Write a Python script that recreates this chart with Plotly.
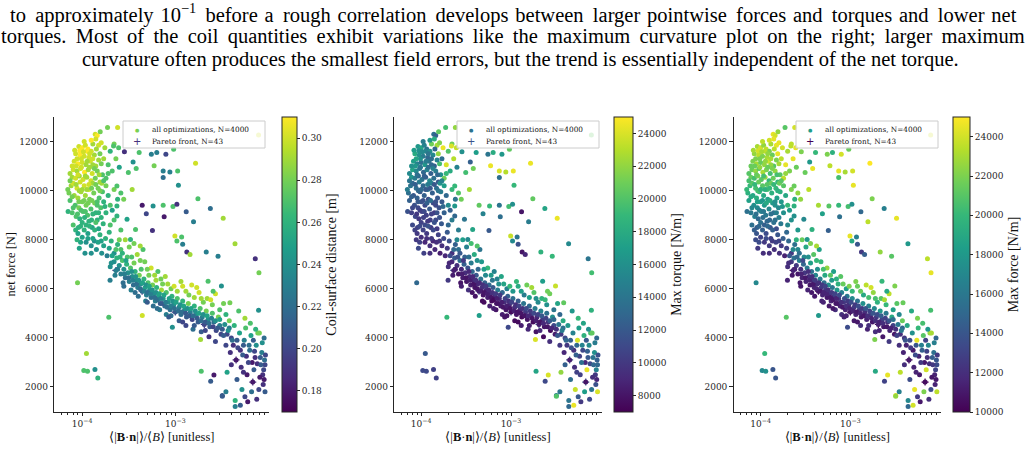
import plotly.graph_objects as go

# ---------------------------------------------------------------
# values (same runs, three colourings)
# x = <|B.n|>/<B>, y = net force [N]
# colour: coil-surface distance [m], max torque [N/m], max force [N/m]
# ---------------------------------------------------------------

# top of the dense cloud at small field error
bn_top = [9.2e-5, 1.00e-4, 1.08e-4, 1.15e-4, 1.25e-4, 1.38e-4, 1.45e-4, 1.30e-4, 8.5e-5, 9.5e-5,
          1.05e-4, 1.18e-4, 1.35e-4, 1.55e-4, 1.70e-4, 8.2e-5, 9.0e-5, 1.0e-4, 1.1e-4, 1.22e-4,
          1.40e-4, 1.60e-4, 1.9e-4, 8.0e-5, 8.8e-5, 9.6e-5, 1.06e-4, 1.16e-4, 1.28e-4, 1.45e-4,
          1.65e-4, 7.8e-5, 8.5e-5, 9.3e-5, 1.02e-4, 1.12e-4, 1.24e-4, 1.38e-4, 1.55e-4, 1.8e-4,
          2.1e-4, 2.3e-4, 1.75e-4, 2.0e-4, 1.5e-4, 2.5e-4, 1.12e-4, 9.8e-5, 1.3e-4, 8.6e-5]
force_top = [11800, 11750, 11850, 11700, 11600, 12300, 12250, 11900, 11500, 11450,
             11400, 11350, 11450, 11500, 11300, 11200, 11100, 11150, 11050, 11200,
             11000, 11100, 11050, 10850, 10800, 10900, 10750, 10850, 10700, 10800,
             10650, 10550, 10500, 10600, 10450, 10550, 10400, 10500, 10350, 10500,
             10800, 11300, 11750, 11600, 11850, 10950, 11600, 11300, 11050, 11000]
dist_top = [0.30, 0.31, 0.30, 0.31, 0.30, 0.30, 0.31, 0.29, 0.30, 0.31,
            0.30, 0.30, 0.29, 0.28, 0.29, 0.30, 0.31, 0.30, 0.29, 0.30,
            0.29, 0.28, 0.27, 0.30, 0.29, 0.30, 0.31, 0.29, 0.30, 0.28,
            0.27, 0.29, 0.30, 0.29, 0.30, 0.29, 0.30, 0.28, 0.29, 0.27,
            0.27, 0.28, 0.29, 0.26, 0.30, 0.25, 0.31, 0.30, 0.29, 0.30]
torque_top = [16500, 17500, 15000, 14000, 16000, 13500, 12500, 21000, 18000, 16000,
              14500, 13000, 15500, 22000, 13500, 17000, 15000, 13500, 16500, 14000,
              12500, 19500, 24000, 17500, 15500, 14000, 13000, 15000, 12500, 14500,
              16000, 16500, 14500, 13000, 14000, 12500, 15500, 13500, 12000, 21000,
              18000, 23000, 24500, 20000, 22500, 15000, 15000, 16000, 13000, 16500]
fmax_top = [23000, 24000, 22500, 23500, 22000, 24500, 24000, 23000, 22500, 23500,
            22000, 23000, 21500, 24500, 23500, 22000, 23000, 21500, 22500, 24000,
            21000, 23000, 24500, 21500, 22500, 21000, 23000, 22000, 20500, 22500,
            21000, 21500, 20500, 22000, 21000, 22500, 20000, 21500, 20000, 23500,
            22000, 24500, 24000, 23000, 24500, 21500, 23500, 22000, 22500, 21500]

# middle of the cloud
bn_mid = [7.2e-5, 7.6e-5, 7.4e-5, 8.0e-5, 8.2e-5, 8.4e-5, 8.8e-5, 9.0e-5, 9.2e-5, 9.5e-5,
          9.7e-5, 1.0e-4, 1.02e-4, 1.05e-4, 1.08e-4, 1.1e-4, 1.14e-4, 1.18e-4, 1.2e-4, 1.24e-4,
          1.3e-4, 1.33e-4, 1.36e-4, 1.4e-4, 1.48e-4, 1.52e-4, 1.58e-4, 1.65e-4, 1.7e-4, 1.8e-4,
          1.9e-4, 2.0e-4, 2.2e-4, 2.4e-4, 7.05e-5, 7.8e-5, 8.6e-5, 9.4e-5, 1.26e-4, 1.6e-4,
          7.0e-5, 1.12e-4, 9.3e-5, 1.27e-4, 1.45e-4, 1.62e-4, 2.1e-4, 2.6e-4, 1.0e-4]
force_mid = [9900, 10200, 9600, 10300, 9800, 9400, 10100, 9700, 9300, 10350,
             9950, 9550, 9150, 10200, 9800, 9400, 9000, 10050, 9650, 9250,
             10300, 9900, 9500, 9100, 10100, 9700, 9300, 9950, 9550, 10200,
             9800, 9400, 10050, 9650, 9150, 9100, 8950, 8850, 8800, 8900,
             10050, 10050, 10000, 9600, 9400, 10300, 9200, 9900, 8700]
dist_mid = [0.28, 0.29, 0.27, 0.30, 0.29, 0.27, 0.30, 0.29, 0.28, 0.30,
            0.29, 0.28, 0.27, 0.30, 0.29, 0.28, 0.27, 0.30, 0.28, 0.27,
            0.29, 0.28, 0.28, 0.26, 0.28, 0.27, 0.27, 0.27, 0.26, 0.28,
            0.26, 0.27, 0.28, 0.26, 0.26, 0.27, 0.27, 0.26, 0.26, 0.26,
            0.28, 0.29, 0.29, 0.28, 0.27, 0.29, 0.25, 0.27, 0.26]
torque_mid = [13500, 14000, 12500, 13000, 12000, 11500, 13500, 12500, 11000, 14500,
              12000, 11500, 10500, 13000, 12500, 11000, 10500, 14000, 11500, 12000,
              15000, 12500, 11000, 10000, 13500, 12000, 11500, 14500, 12000, 17000,
              13000, 15500, 19000, 14000, 11500, 10500, 11000, 10000, 10500, 11500,
              14500, 12000, 13000, 13500, 11000, 16000, 12500, 20000, 10500]
fmax_mid = [19500, 20000, 18500, 21000, 19000, 17500, 20500, 19500, 17000, 21500,
            20000, 18500, 16500, 21000, 19000, 18000, 16000, 20500, 18500, 17000,
            21500, 19500, 18000, 15500, 20000, 18500, 17000, 19500, 18000, 21000,
            19000, 20000, 22000, 19500, 15500, 16000, 16500, 15000, 15000, 16500,
            20000, 19500, 20500, 19000, 17500, 21500, 18000, 22500, 15500]

# extra runs filling the cloud
bn_fc = [8.3e-5, 9.4e-5, 1.03e-4, 1.2e-4, 1.42e-4, 1.6e-4, 1.25e-4, 1.05e-4, 8.8e-5, 1.13e-4,
         1.3e-4, 1.5e-4, 7.8e-5, 9.8e-5, 1.2e-4, 1.35e-4, 1.52e-4, 7.4e-5, 9.0e-5, 1.08e-4,
         1.18e-4, 1.4e-4, 1.7e-4, 7.4e-5, 8.6e-5, 1.0e-4, 1.26e-4, 1.55e-4, 7.8e-5, 9.2e-5,
         1.05e-4, 1.16e-4, 1.45e-4, 1.75e-4, 8.0e-5, 9.7e-5, 1.08e-4, 1.3e-4, 1.5e-4, 1.8e-4,
         8.9e-5, 1.18e-4, 1.45e-4, 1.06e-4, 9.1e-5, 1.1e-4, 1.28e-4, 1.5e-4, 1.15e-4, 1.35e-4,
         1.6e-4, 1.25e-4, 9.6e-5, 1.95e-4, 2.2e-4, 1.9e-4, 2.2e-4, 1.4e-4]
force_fc = [11650, 11620, 11580, 11500, 11700, 11950, 12050, 12000, 11300, 11200,
            11300, 11250, 11000, 10950, 10950, 10900, 10650, 10700, 10650, 10600,
            10250, 10250, 10400, 10400, 10250, 10050, 10100, 10000, 9750, 9550,
            9600, 9500, 9550, 9350, 9300, 9200, 9150, 9050, 9100, 9100,
            9050, 8750, 8800, 8900, 8500, 8600, 8500, 8450, 8050, 7950,
            7950, 7450, 7900, 8300, 8800, 10700, 11900, 12100]
dist_fc = [0.30, 0.31, 0.30, 0.30, 0.29, 0.30, 0.31, 0.30, 0.30, 0.29,
           0.30, 0.29, 0.30, 0.30, 0.29, 0.28, 0.29, 0.29, 0.30, 0.29,
           0.30, 0.28, 0.27, 0.28, 0.29, 0.29, 0.28, 0.28, 0.28, 0.28,
           0.28, 0.28, 0.27, 0.26, 0.27, 0.27, 0.27, 0.26, 0.26, 0.26,
           0.27, 0.26, 0.26, 0.26, 0.26, 0.26, 0.25, 0.25, 0.25, 0.24,
           0.25, 0.24, 0.25, 0.26, 0.27, 0.27, 0.28, 0.30]
torque_fc = [17000, 16000, 15500, 14000, 13000, 21500, 16500, 14500, 17500, 14500,
             13500, 15000, 16000, 14000, 13500, 15000, 13000, 15500, 13500, 12500,
             14500, 12000, 15000, 14000, 12500, 13000, 12000, 14000, 12500, 12000,
             11500, 12500, 11500, 13000, 11000, 10500, 11000, 10500, 11500, 12500,
             10000, 10000, 11000, 10500, 10500, 11000, 10000, 10000, 9500, 9000,
             10000, 9500, 10500, 12000, 14500, 19000, 21000, 18000]
fmax_fc = [23000, 24000, 23000, 22500, 23500, 24500, 24000, 23500, 22000, 22500,
           23000, 22000, 21500, 22500, 21500, 22000, 20500, 21000, 21500, 20500,
           21000, 20000, 21000, 20500, 20000, 19500, 20000, 19500, 19000, 18500,
           18000, 19000, 17500, 18000, 17000, 16500, 16000, 15500, 16500, 17500,
           15500, 15000, 15500, 15500, 14500, 14500, 14000, 13500, 13500, 12500,
           13000, 12000, 13500, 15000, 17500, 22500, 23500, 24500]

# lower end of the cloud where it turns into the band
bn_low = [8.0e-5, 8.5e-5, 9.0e-5, 9.6e-5, 1.0e-4, 1.05e-4, 1.1e-4, 1.15e-4, 1.2e-4, 1.25e-4,
          1.3e-4, 1.36e-4, 1.42e-4, 1.48e-4, 1.55e-4, 1.62e-4, 1.7e-4, 1.78e-4, 1.85e-4, 1.95e-4,
          2.05e-4, 2.2e-4, 2.4e-4, 1.07e-4, 9.3e-5, 8.8e-5, 2.6e-4, 2.0e-4, 1.68e-4, 1.4e-4]
force_low = [8600, 8400, 8250, 8550, 8100, 8400, 7900, 8250, 8550, 7750,
             8050, 8400, 7600, 7900, 8200, 7450, 7750, 8050, 7350, 7650,
             7950, 7450, 7800, 7450, 7650, 8000, 8400, 8600, 8650, 8700]
dist_low = [0.27, 0.26, 0.25, 0.26, 0.25, 0.26, 0.24, 0.25, 0.26, 0.24,
            0.25, 0.26, 0.24, 0.25, 0.26, 0.24, 0.25, 0.26, 0.23, 0.25,
            0.26, 0.24, 0.26, 0.24, 0.25, 0.26, 0.27, 0.27, 0.26, 0.27]
torque_low = [11000, 10500, 10000, 11000, 9500, 10500, 9000, 10000, 11500, 9500,
              10000, 11000, 9000, 9500, 10500, 8500, 9500, 11000, 9000, 10000,
              11500, 9500, 12500, 10500, 11000, 10000, 14500, 13000, 12000, 11500]
fmax_low = [15500, 14500, 14000, 15000, 13000, 14500, 12500, 13500, 15000, 12500,
            13000, 14500, 12000, 13000, 14000, 12000, 12500, 14500, 11500, 13000,
            15000, 12500, 15500, 12000, 12500, 13500, 18000, 17000, 16000, 15500]

# band, first half (2e-4 .. 8e-4)
bn_b1 = [2.0e-4, 2.1e-4, 2.2e-4, 2.3e-4, 2.35e-4, 2.5e-4, 2.6e-4, 2.7e-4, 2.8e-4, 2.9e-4,
         3.0e-4, 3.1e-4, 3.2e-4, 3.3e-4, 3.45e-4, 3.55e-4, 3.7e-4, 3.8e-4, 3.95e-4, 4.1e-4,
         4.25e-4, 4.4e-4, 4.6e-4, 4.75e-4, 4.9e-4, 5.1e-4, 5.3e-4, 5.5e-4, 5.7e-4, 5.9e-4,
         6.1e-4, 6.3e-4, 6.6e-4, 6.9e-4, 7.1e-4, 7.4e-4, 7.7e-4, 8.0e-4, 2.25e-4, 2.75e-4,
         3.35e-4, 4.0e-4, 4.8e-4, 5.8e-4, 6.8e-4, 3.05e-4, 3.6e-4, 4.3e-4, 5.2e-4, 6.2e-4,
         7.3e-4, 3.9e-4, 4.7e-4, 5.5e-4, 6.5e-4, 7.8e-4, 2.6e-4, 3.2e-4, 2.9e-4, 3.6e-4,
         4.5e-4]
force_b1 = [6900, 7350, 7100, 6750, 7250, 6950, 6600, 7150, 6800, 6450,
            7000, 6650, 6300, 6850, 6500, 6150, 6700, 6350, 6050, 6550,
            6200, 5900, 6400, 6050, 5750, 6250, 5950, 5650, 6150, 5800,
            5500, 6050, 5700, 5400, 5950, 5600, 5300, 5850, 6550, 6250,
            5950, 5700, 5500, 5300, 5150, 7300, 7050, 6800, 6550, 6350,
            6200, 7400, 7100, 6850, 6700, 6500, 7600, 7700, 8000, 7850,
            7600]
dist_b1 = [0.24, 0.25, 0.24, 0.23, 0.26, 0.24, 0.23, 0.27, 0.24, 0.22,
           0.26, 0.24, 0.23, 0.27, 0.24, 0.22, 0.26, 0.24, 0.23, 0.28,
           0.24, 0.22, 0.26, 0.25, 0.23, 0.27, 0.24, 0.22, 0.28, 0.24,
           0.23, 0.26, 0.25, 0.21, 0.29, 0.24, 0.22, 0.27, 0.23, 0.22,
           0.23, 0.22, 0.23, 0.22, 0.23, 0.27, 0.28, 0.27, 0.28, 0.29,
           0.28, 0.29, 0.28, 0.30, 0.27, 0.29, 0.27, 0.28, 0.29, 0.28,
           0.27]
torque_b1 = [9500, 11000, 9000, 8500, 12000, 9500, 8000, 13500, 9000, 8500,
             12500, 9500, 8000, 11500, 9000, 8500, 13000, 9500, 8000, 12000,
             9000, 8500, 14000, 9500, 8000, 12500, 9000, 8500, 13000, 9500,
             7500, 12000, 9000, 8000, 14500, 9500, 8500, 13000, 8500, 8000,
             9500, 8000, 7500, 8500, 8000, 12500, 14500, 13000, 15500, 14000,
             16000, 18000, 16500, 19000, 15000, 17500, 13500, 15000, 17000, 19500,
             14000]
fmax_b1 = [12000, 14000, 12500, 11500, 15500, 12500, 11000, 16500, 12000, 11500,
           15000, 12500, 11500, 16000, 12000, 11000, 15500, 12500, 11500, 17000,
           12000, 11000, 16500, 12500, 11500, 15500, 12500, 11000, 17500, 12000,
           11500, 16000, 12500, 11000, 18000, 12500, 11500, 16500, 11000, 11000,
           11500, 11000, 11500, 11000, 12000, 17000, 18500, 17500, 19000, 18000,
           19500, 21000, 20000, 22500, 18500, 21000, 17000, 19000, 21500, 22000,
           18500]

# band, second half (8e-4 .. 3.5e-3)
bn_b2 = [8.4e-4, 8.8e-4, 9.2e-4, 9.6e-4, 1.0e-3, 1.05e-3, 1.1e-3, 1.15e-3, 1.2e-3, 1.26e-3,
         1.32e-3, 1.38e-3, 1.45e-3, 1.52e-3, 1.6e-3, 1.68e-3, 1.76e-3, 1.85e-3, 1.95e-3, 2.05e-3,
         2.15e-3, 2.25e-3, 2.35e-3, 2.5e-3, 2.6e-3, 2.75e-3, 2.9e-3, 3.0e-3, 3.1e-3, 9.0e-4,
         1.1e-3, 1.3e-3, 1.55e-3, 1.9e-3, 2.3e-3, 2.7e-3, 9.0e-4, 1.05e-3, 1.2e-3, 1.4e-3,
         1.6e-3, 1.8e-3, 2.0e-3, 2.2e-3, 2.5e-3, 2.7e-3, 3.0e-3, 3.3e-3, 3.5e-3, 1.15e-3,
         1.7e-3, 8.0e-4, 9.3e-4]
force_b2 = [5450, 5150, 5700, 5350, 5050, 5600, 5250, 4950, 5500, 5150,
            4850, 5400, 5050, 4750, 5300, 4950, 4650, 5200, 4850, 4550,
            5100, 4750, 4450, 5000, 4650, 4300, 4850, 4500, 4150, 4900,
            4700, 4500, 4350, 4250, 4050, 3850, 6000, 5900, 6100, 5750,
            5650, 5850, 5450, 5600, 5350, 5800, 5150, 5400, 4950, 6300,
            6050, 4950, 4435]
dist_b2 = [0.24, 0.22, 0.26, 0.24, 0.21, 0.27, 0.23, 0.22, 0.26, 0.24,
           0.21, 0.28, 0.23, 0.20, 0.26, 0.24, 0.21, 0.27, 0.23, 0.20,
           0.28, 0.24, 0.21, 0.27, 0.22, 0.20, 0.28, 0.23, 0.20, 0.22,
           0.21, 0.20, 0.22, 0.21, 0.19, 0.20, 0.28, 0.29, 0.30, 0.28,
           0.29, 0.30, 0.28, 0.29, 0.28, 0.30, 0.27, 0.28, 0.26, 0.29,
           0.30, 0.23, 0.24]
torque_b2 = [9500, 8000, 12500, 9000, 7500, 13500, 9500, 8000, 12000, 9000,
             7500, 14000, 10000, 8000, 13000, 9500, 7500, 14500, 9000, 8500,
             15000, 10000, 8000, 13500, 9500, 7500, 16000, 11000, 8500, 8000,
             7500, 8500, 9000, 8000, 7500, 9500, 15000, 16500, 18000, 14500,
             17000, 20000, 15500, 18500, 16000, 21000, 14000, 17500, 13000, 19000,
             22500, 8500, 11000]
fmax_b2 = [12500, 11500, 16000, 12000, 11000, 17000, 12500, 11500, 15500, 12500,
           11000, 17500, 12000, 11500, 16500, 13000, 11000, 17000, 12500, 11500,
           18000, 13000, 11000, 16000, 12000, 11500, 19000, 13000, 11000, 11500,
           11000, 12000, 11500, 12000, 11000, 12500, 18500, 20000, 21500, 19000,
           20500, 22500, 19500, 21000, 20000, 23500, 18500, 21000, 17000, 22000,
           24000, 12000, 13500]

# extra runs along the core of the band
bn_fb = [2.05e-4, 2.4e-4, 2.55e-4, 2.85e-4, 2.95e-4, 3.15e-4, 3.4e-4, 3.5e-4, 3.75e-4, 3.85e-4,
         4.05e-4, 4.2e-4, 4.45e-4, 4.65e-4, 4.85e-4, 5.05e-4, 5.25e-4, 5.45e-4, 5.65e-4, 6.0e-4,
         6.2e-4, 6.45e-4, 6.75e-4, 7.0e-4, 7.25e-4, 7.55e-4, 7.9e-4, 8.2e-4, 8.6e-4, 9.0e-4,
         9.4e-4, 9.8e-4, 1.02e-3, 1.08e-3, 1.13e-3, 1.18e-3, 1.23e-3, 1.29e-3, 1.35e-3, 1.42e-3,
         1.48e-3, 1.56e-3, 1.64e-3, 1.72e-3, 1.8e-3, 1.9e-3, 2.0e-3, 2.1e-3, 2.2e-3, 2.3e-3,
         2.45e-3, 2.55e-3, 2.7e-3, 2.85e-3, 3.0e-3, 3.2e-3, 3.4e-3, 3.6e-3, 3.8e-3, 4.0e-3,
         4.2e-3, 4.6e-3, 5.0e-3, 5.4e-3, 5.8e-3, 6.2e-3, 6.7e-3, 7.1e-3, 7.6e-3, 8.2e-3,
         8.7e-3, 9.2e-3]
force_fb = [7050, 6800, 7300, 6600, 7150, 6450, 6700, 6350, 6500, 6200,
            6350, 6000, 6250, 5900, 6150, 5850, 6100, 5800, 5950, 5650,
            5850, 5550, 5800, 5600, 5400, 5750, 5450, 5250, 5600, 5300,
            5500, 5200, 5450, 5100, 5350, 5050, 5300, 5000, 5200, 4900,
            5200, 4900, 5100, 4800, 5000, 4700, 4950, 4650, 4900, 4600,
            4800, 4450, 4700, 4400, 4750, 4350, 4550, 4150, 4400, 4000,
            3700, 3900, 3500, 3700, 3250, 3700, 3000, 3450, 2950, 3200,
            2500, 2900]
dist_fb = [0.24, 0.23, 0.26, 0.23, 0.25, 0.22, 0.24, 0.23, 0.24, 0.22,
           0.24, 0.22, 0.25, 0.23, 0.24, 0.22, 0.25, 0.23, 0.24, 0.22,
           0.24, 0.22, 0.25, 0.23, 0.21, 0.25, 0.23, 0.22, 0.25, 0.23,
           0.24, 0.22, 0.25, 0.22, 0.24, 0.22, 0.25, 0.21, 0.24, 0.21,
           0.25, 0.22, 0.24, 0.21, 0.25, 0.22, 0.24, 0.21, 0.25, 0.22,
           0.23, 0.20, 0.24, 0.21, 0.25, 0.21, 0.24, 0.20, 0.23, 0.20,
           0.19, 0.21, 0.19, 0.21, 0.19, 0.22, 0.18, 0.20, 0.19, 0.21,
           0.19, 0.20]
torque_fb = [9000, 8500, 11500, 8500, 10000, 8000, 9000, 8500, 9000, 8000,
             9500, 8000, 9000, 8500, 9500, 8000, 10000, 8500, 9000, 8000,
             9500, 7500, 10000, 8500, 8000, 10000, 8500, 8000, 10500, 8500,
             9500, 8000, 10500, 8500, 9500, 8000, 10500, 8000, 9500, 8000,
             11000, 9000, 10000, 8000, 11000, 8500, 10500, 8000, 12000, 9000,
             10500, 8000, 12000, 9000, 13000, 9500, 14000, 10000, 13500, 11000,
             10000, 12500, 9500, 13000, 10500, 15000, 9000, 12500, 11000, 14000,
             10000, 13000]
fmax_fb = [12000, 11500, 15000, 11500, 13500, 11000, 12000, 11500, 12000, 11000,
           12500, 11500, 12000, 11000, 12500, 11500, 13000, 11500, 12000, 11000,
           12500, 11000, 13000, 11500, 11000, 13500, 12000, 11000, 13500, 12000,
           12500, 11500, 13500, 11500, 12500, 11000, 13500, 11500, 12500, 11000,
           14000, 12000, 13000, 11500, 14000, 12000, 13500, 11500, 14500, 12000,
           13000, 11000, 14000, 11500, 15500, 12000, 16000, 12000, 15000, 12500,
           11500, 13500, 11000, 14000, 11500, 16500, 11000, 13000, 12000, 14500,
           11500, 13500]

# upper (greenish) and lower edges of the band
bn_fu = [2.3e-4, 2.5e-4, 2.7e-4, 3.4e-4, 4.2e-4, 5.0e-4, 6.0e-4, 7.0e-4, 8.3e-4, 9.7e-4,
         1.3e-3, 1.5e-3, 1.9e-3, 2.4e-3, 2.8e-4, 3.7e-4, 5.0e-4, 6.4e-4, 8.5e-4, 1.2e-3,
         1.6e-3, 2.1e-3]
force_fu = [7600, 8000, 7450, 7300, 7150, 6800, 6550, 6400, 6200, 6100,
            5900, 6150, 5600, 5550, 6100, 5850, 5450, 5200, 4850, 4650,
            4500, 4300]
dist_fu = [0.27, 0.28, 0.26, 0.27, 0.28, 0.28, 0.29, 0.28, 0.29, 0.30,
           0.29, 0.30, 0.29, 0.30, 0.22, 0.22, 0.21, 0.22, 0.21, 0.20,
           0.21, 0.20]
torque_fu = [13000, 15500, 12000, 13500, 16000, 17000, 16500, 15000, 17500, 19000,
             17000, 21000, 16000, 19000, 8500, 8000, 7500, 8500, 8000, 7500,
             8500, 9000]
fmax_fu = [17000, 19500, 15500, 17500, 20000, 20500, 21000, 19500, 21500, 22000,
           21500, 23500, 20500, 23000, 11000, 11000, 11500, 11000, 11500, 11000,
           12000, 11500]

# spread-out tail at large field error
bn_tail = [3.3e-3, 3.5e-3, 3.7e-3, 3.9e-3, 4.1e-3, 4.3e-3, 4.5e-3, 4.7e-3, 4.9e-3, 5.1e-3,
           5.3e-3, 5.5e-3, 5.7e-3, 5.9e-3, 6.1e-3, 6.3e-3, 6.5e-3, 6.8e-3, 7.0e-3, 7.2e-3,
           7.4e-3, 7.7e-3, 7.9e-3, 8.1e-3, 8.3e-3, 8.5e-3, 8.8e-3, 8.9e-3, 9.1e-3, 9.2e-3,
           4.0e-3, 4.6e-3, 5.2e-3, 5.6e-3, 6.0e-3, 6.6e-3, 7.5e-3, 4.4e-3, 4.4e-3, 5.0e-3,
           3.6e-3, 3.2e-3, 3.5e-3, 3.8e-3, 4.8e-3, 5.6e-3, 6.4e-3, 7.3e-3, 8.0e-3, 8.6e-3,
           9.0e-3, 9.3e-3, 9.0e-3, 6.9e-3, 5.4e-3]
force_tail = [4100, 3700, 4300, 3400, 3900, 4500, 3100, 3600, 4200, 2800,
              3300, 3900, 4400, 2500, 3000, 3500, 4100, 2200, 2700, 3200,
              3700, 4200, 1900, 2400, 2900, 3400, 2100, 2700, 3100, 1800,
              2900, 2300, 1900, 1600, 1400, 1800, 1500, 1450, 1200, 1250,
              2600, 1650, 1800, 4700, 5100, 4800, 4600, 4350, 4200, 3800,
              4000, 3300, 2300, 3900, 2600]
dist_tail = [0.21, 0.20, 0.24, 0.19, 0.22, 0.26, 0.18, 0.20, 0.25, 0.19,
             0.21, 0.23, 0.27, 0.18, 0.20, 0.22, 0.25, 0.18, 0.21, 0.19,
             0.24, 0.28, 0.20, 0.18, 0.21, 0.23, 0.19, 0.20, 0.22, 0.21,
             0.19, 0.21, 0.24, 0.20, 0.18, 0.22, 0.19, 0.26, 0.23, 0.21,
             0.25, 0.21, 0.23, 0.28, 0.27, 0.29, 0.27, 0.26, 0.28, 0.24,
             0.22, 0.20, 0.18, 0.21, 0.19]
torque_tail = [12000, 10000, 14500, 9000, 13000, 16500, 8500, 11500, 15000, 9500,
               12500, 24000, 17000, 10500, 13500, 11000, 18500, 8000, 24500, 12000,
               15500, 19500, 14000, 9500, 13000, 16000, 11500, 15000, 12500, 24000,
               12500, 13500, 23500, 12000, 10000, 17000, 11000, 14000, 13000, 24500,
               22000, 15000, 14000, 18000, 16500, 19000, 17500, 16000, 20500, 14500,
               13000, 11500, 9000, 12000, 10500]
fmax_tail = [13000, 12000, 16000, 11500, 14000, 19000, 11000, 12500, 17500, 11500,
             13500, 24500, 20000, 11000, 12500, 14500, 21000, 10500, 24000, 12000,
             17000, 22500, 13500, 11000, 12500, 15500, 11500, 13000, 14000, 23500,
             12000, 13500, 24500, 12500, 11000, 22000, 12000, 17000, 15000, 24000,
             23500, 24000, 16500, 21500, 19000, 22000, 20500, 18000, 23000, 16500,
             15000, 12500, 11000, 13000, 11500]

# sparse points above the band and isolated outliers
bn_sp = [1.87e-4, 2.40e-4, 1.56e-4, 2.17e-4, 2.46e-4, 2.84e-4, 3.52e-4, 3.80e-4, 3.13e-4, 4.09e-4,
         5.53e-4, 6.32e-4, 7.92e-4, 9.6e-4, 5.92e-4, 7.41e-4, 8.75e-4, 7.41e-4, 1.06e-3, 1.65e-3,
         7.85e-3, 1.08e-3, 1.75e-3, 1.31e-3, 1.57e-3, 2.38e-3, 3.27e-3, 9.44e-4, 1.04e-3, 7.59e-4,
         5.77e-4, 4.88e-4, 4.41e-4, 7.41e-4, 5.68e-4, 9.9e-4, 1.04e-3, 1.17e-3, 1.20e-3, 1.33e-3,
         1.44e-3, 2.15e-3, 2.88e-3, 4.38e-3, 7.23e-3, 7.92e-3, 2.25e-3, 2.55e-3, 3.13e-3, 7.85e-3,
         3.86e-3, 8.9e-5, 1.11e-4, 1.04e-4, 1.14e-4, 1.37e-4, 1.47e-4, 1.93e-4, 1.99e-4, 4.42e-4,
         1.87e-3, 1.9e-3, 2.4e-3, 2.6e-3, 3.2e-3, 2.36e-4, 2.79e-4, 2.36e-4, 3.44e-4, 3.03e-4,
         3.74e-4, 3.3e-4, 4.2e-4, 2.36e-4]
force_sp = [12570, 12570, 12400, 11820, 11750, 11580, 11170, 10900, 10740, 11550,
            11480, 11550, 11480, 11690, 11010, 10800, 10760, 10530, 10800, 11120,
            12270, 10220, 9670, 9140, 8735, 9270, 8870, 9350, 9440, 8940,
            9370, 9060, 9400, 9400, 8380, 8150, 7950, 8110, 7810, 7500,
            7400, 7500, 7330, 7840, 7220, 6650, 6310, 5900, 6110, 5130,
            5430, 6245, 3360, 2670, 2640, 2710, 2370, 4840, 6350, 4910,
            3930, 2640, 2230, 2490, 1620, 10190, 9650, 9370, 10050, 8830,
            8420, 8010, 7740, 8970]
dist_sp = [0.28, 0.30, 0.28, 0.27, 0.27, 0.19, 0.24, 0.27, 0.27, 0.27,
           0.23, 0.23, 0.20, 0.27, 0.28, 0.23, 0.23, 0.22, 0.27, 0.30,
           0.30, 0.24, 0.27, 0.21, 0.23, 0.22, 0.29, 0.27, 0.19, 0.18,
           0.24, 0.20, 0.18, 0.27, 0.19, 0.30, 0.27, 0.27, 0.23, 0.19,
           0.29, 0.23, 0.23, 0.29, 0.19, 0.28, 0.27, 0.27, 0.24, 0.24,
           0.28, 0.28, 0.29, 0.27, 0.27, 0.24, 0.26, 0.27, 0.23, 0.30,
           0.29, 0.27, 0.21, 0.18, 0.21, 0.27, 0.28, 0.26, 0.29, 0.25,
           0.27, 0.26, 0.29, 0.26]
torque_sp = [19500, 22000, 20500, 24000, 23500, 16000, 12500, 21000, 19500, 17000,
             14000, 18000, 16500, 20500, 24500, 24000, 23000, 13500, 24500, 24500,
             20500, 19000, 20500, 8000, 14500, 17500, 24500, 19500, 16000, 13500,
             19000, 15000, 20500, 14000, 12000, 23500, 15500, 14000, 11500, 8000,
             9000, 18500, 19000, 15500, 14000, 19500, 17000, 21000, 23500, 18500,
             20500, 13000, 12000, 11000, 11000, 10500, 10500, 19000, 10000, 17000,
             24000, 17500, 11000, 24000, 20000, 19000, 21000, 16500, 22500, 14000,
             17500, 15500, 20000, 13000]
fmax_sp = [21000, 24000, 22500, 23500, 24500, 22000, 18000, 24500, 21500, 20000,
           22000, 19500, 24000, 21500, 23500, 24500, 23000, 20500, 24000, 25000,
           24000, 24500, 22000, 15000, 23500, 16500, 24500, 20500, 17500, 15500,
           21000, 18500, 23000, 20000, 14500, 24500, 19000, 16500, 14000, 12500,
           14500, 22500, 21000, 18000, 23500, 24500, 20000, 19000, 22000, 20500,
           21500, 17000, 20000, 17000, 17500, 14000, 14000, 21000, 11500, 18000,
           22000, 19000, 13000, 24500, 22500, 21500, 22500, 19500, 23500, 17000,
           19500, 18000, 23000, 17500]

# Pareto-front runs (hidden under the main cloud in the figure)
bn_pareto = [2.3e-4, 4.4e-4, 1.0e-3, 2.05e-3, 4.5e-3, 6.8e-3]
force_pareto = [6750, 5900, 5050, 4550, 3100, 2200]

bn = bn_top + bn_mid + bn_fc + bn_low + bn_b1 + bn_b2 + bn_fb + bn_fu + bn_tail + bn_sp
net_force = (force_top + force_mid + force_fc + force_low + force_b1 + force_b2 + force_fb
             + force_fu + force_tail + force_sp)
coil_dist = (dist_top + dist_mid + dist_fc + dist_low + dist_b1 + dist_b2 + dist_fb
             + dist_fu + dist_tail + dist_sp)
max_torque = (torque_top + torque_mid + torque_fc + torque_low + torque_b1 + torque_b2
              + torque_fb + torque_fu + torque_tail + torque_sp)
max_force = (fmax_top + fmax_mid + fmax_fc + fmax_low + fmax_b1 + fmax_b2 + fmax_fb
             + fmax_fu + fmax_tail + fmax_sp)
assert len(bn) == len(net_force) == len(coil_dist) == len(max_torque) == len(max_force)

panels = [
    dict(c=coil_dist, cmin=0.17, cmax=0.31, cticks=[0.18, 0.20, 0.22, 0.24, 0.26, 0.28, 0.30],
         ctext=['0.18', '0.20', '0.22', '0.24', '0.26', '0.28', '0.30'],
         ctitle='Coil-surface distance [m]', x0=54.3, x1=269.3, cbx=282, cbw=15, legx=123,
         leg_all='#7ad151', leg_par='#46327e'),
    dict(c=max_torque, cmin=7000, cmax=25000, cticks=list(range(8000, 24001, 2000)),
         ctext=[str(v) for v in range(8000, 24001, 2000)],
         ctitle='Max torque [N/m]', x0=394.3, x1=601.7, cbx=614, cbw=19, legx=457,
         leg_all='#2c728e', leg_par='#3b528b'),
    dict(c=max_force, cmin=10000, cmax=25000, cticks=list(range(10000, 24001, 2000)),
         ctext=[str(v) for v in range(10000, 24001, 2000)],
         ctitle='Max force [N/m]', x0=733.7, x1=941, cbx=953, cbw=17, legx=796,
         leg_all='#1f9e89', leg_par='#440154'),
]

W, H = 1027, 449
top_px, bot_px = 117, 411.5
tick_font = dict(family='DejaVu Serif', size=9, color='#262626')
label_font = dict(family='Liberation Serif', size=12.5, color='#111')
minor_vals = [6e-5, 7e-5, 8e-5, 9e-5] + [k * 1e-4 for k in range(2, 10)] + [k * 1e-3 for k in range(2, 10)]
y_ticks = list(range(2000, 12001, 2000))

fig = go.Figure()
layout = dict(width=W, height=H, margin=dict(l=0, r=0, t=0, b=0),
              paper_bgcolor='white', plot_bgcolor='white', showlegend=False)
shapes, notes = [], []

for i, p in enumerate(panels):
    n = '' if i == 0 else str(i + 1)
    xa, ya, ca = 'x' + n, 'y' + n, 'coloraxis' + n

    fig.add_trace(go.Scatter(x=bn_pareto, y=force_pareto, mode='markers', xaxis=xa, yaxis=ya,
                             name='Pareto front, N=43',
                             marker=dict(symbol='cross-thin', size=5, color=p['leg_par'],
                                         line=dict(width=1.2, color=p['leg_par']))))
    fig.add_trace(go.Scatter(x=bn, y=net_force, mode='markers', xaxis=xa, yaxis=ya,
                             name='all optimizations, N=4000',
                             marker=dict(size=5, color=p['c'], coloraxis=ca, line=dict(width=0))))

    layout['xaxis' + n] = dict(
        domain=[p['x0'] / W, p['x1'] / W], anchor=ya, type='log', range=[-4.3, -1.99],
        tickvals=[1e-4, 1e-3], ticktext=['10<sup>−4</sup>', '10<sup>−3</sup>'],
        ticks='outside', ticklen=3.5, tickwidth=0.9, tickcolor='#262626', tickfont=tick_font,
        showline=True, linecolor='#262626', linewidth=1.1, showgrid=False, zeroline=False,
        minor=dict(tickvals=minor_vals, ticks='outside', ticklen=2, tickwidth=0.7,
                   tickcolor='#262626', showgrid=False),
        title=dict(text='⟨|<b>B</b>·<b>n</b>|⟩/⟨<i>B</i>⟩ [unitless]', font=label_font, standoff=4))
    layout['yaxis' + n] = dict(
        domain=[1 - bot_px / H, 1 - top_px / H], anchor=xa, range=[1000, 13000],
        tickvals=y_ticks, ticktext=[str(v) for v in y_ticks],
        ticks='outside', ticklen=3.5, tickwidth=0.9,
        tickcolor='#262626', tickfont=tick_font, showline=True, linecolor='#262626',
        linewidth=1.1, showgrid=False, zeroline=False,
        title=dict(text='net force [N]' if i == 0 else '', font=label_font, standoff=0))
    layout[ca] = dict(
        colorscale='Viridis', cmin=p['cmin'], cmax=p['cmax'],
        colorbar=dict(x=p['cbx'] / W, xanchor='left', xpad=0, y=1 - top_px / H, yanchor='top',
                      ypad=0, len=(bot_px - top_px) / H, lenmode='fraction', thickness=p['cbw'],
                      outlinewidth=1, outlinecolor='#262626', tickvals=p['cticks'],
                      ticktext=p['ctext'], ticks='outside', ticklen=3, tickcolor='#262626',
                      tickfont=tick_font,
                      title=dict(text=p['ctitle'], side='right',
                                 font=dict(family='Liberation Serif', size=14, color='#111'))))

    # matplotlib-style legend box in the upper right of each panel
    lx = p['legx']
    shapes.append(dict(type='rect', xref='paper', yref='paper', layer='above',
                       x0=lx / W, x1=(lx + 142) / W, y0=1 - 148 / H, y1=1 - 121 / H,
                       line=dict(color='#cccccc', width=1), fillcolor='rgba(255,255,255,0.8)'))
    for row_y, sym, sym_font, label in [
            (129.5, '●', dict(family='DejaVu Sans', size=5, color=p['leg_all']),
             'all optimizations, N=4000'),
            (141, '+', dict(family='DejaVu Sans', size=10, color=p['leg_par']),
             'Pareto front, N=43')]:
        notes.append(dict(text=sym, x=(lx + 14) / W, y=1 - row_y / H, xref='paper', yref='paper',
                          xanchor='center', yanchor='middle', showarrow=False, font=sym_font))
        notes.append(dict(text=label, x=(lx + 27) / W, y=1 - row_y / H, xref='paper',
                          yref='paper', xanchor='left', yanchor='middle', showarrow=False,
                          font=dict(family='DejaVu Serif', size=7.3, color='#111')))

# paragraph of the page above the figure (first two lines are justified)
par_font = dict(family='Liberation Serif', size=20.5, color='black')
par_lines = [
    ('to approximately 10<sup>−1</sup> before a rough correlation develops between '
     'larger pointwise forces and torques and lower net', 513, 13.5, ['\u2009', '\u200a']),
    ('torques. Most of the coil quantities exhibit variations like the maximum '
     'curvature plot on the right; larger maximum', 513, 36, ['\u2009']),
    ('curvature often produces the smallest field errors, but the trend is '
     'essentially independent of the net torque.', 520, 59.5, ['']),
]
for txt, cx, cy, pads in par_lines:
    words = txt.split(' ')
    txt = words[0]
    for k, w in enumerate(words[1:]):
        txt += ' ' + pads[k % len(pads)] + w
    notes.append(dict(text=txt, x=cx / W, y=1 - cy / H, xref='paper', yref='paper',
                      xanchor='center', yanchor='middle', showarrow=False, font=par_font))

layout['shapes'] = shapes
layout['annotations'] = notes
fig.update_layout(**layout)
fig.write_html("out.html", config={'displayModeBar': False},
               post_script="document.body.style.margin='0';")
